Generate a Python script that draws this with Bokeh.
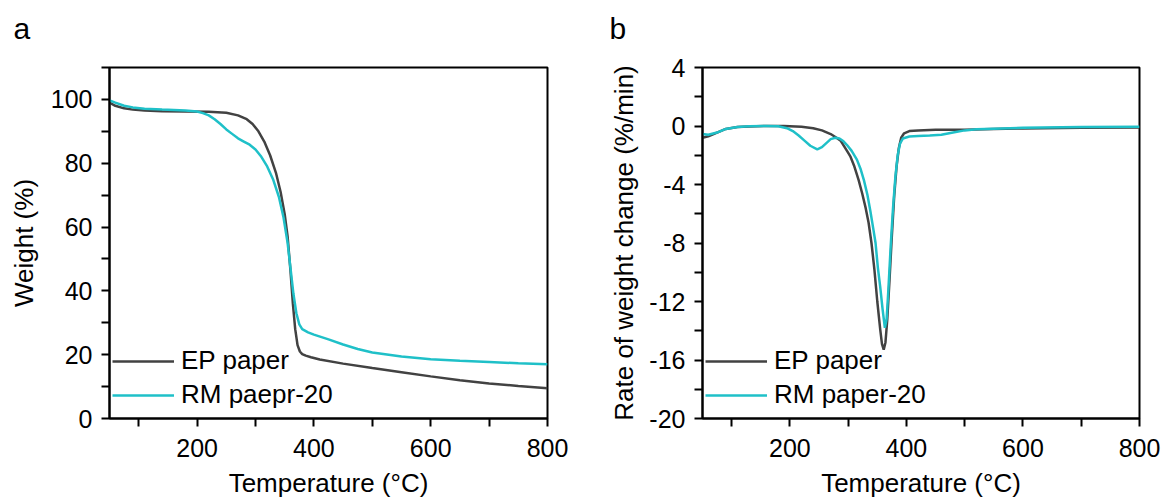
from bokeh.plotting import figure
from bokeh.layouts import row, column
from bokeh.models import FixedTicker, Legend, LegendItem, Label, Range1d
from bokeh.embed import file_html
from bokeh.resources import INLINE

# ---------------- data ----------------
ep_tg_t = [50, 60, 75, 90, 110, 140, 180, 220, 250, 270, 285, 295, 305, 315, 325, 335, 343,
           350, 355, 360, 364, 368, 372, 376, 380, 386, 395, 410, 450, 500, 550, 600, 650,
           700, 750, 800]
ep_tg_w = [99.0, 98.0, 97.2, 96.8, 96.5, 96.3, 96.2, 96.1, 95.8, 95.0, 93.8, 92.3, 90.0, 86.8,
           82.5, 77.0, 71.0, 64.0, 57.0, 46.0, 36.0, 28.0, 23.0, 21.0, 20.2, 19.7, 19.2, 18.5,
           17.2, 15.8, 14.5, 13.2, 12.0, 11.0, 10.2, 9.5]

rm_tg_t = [50, 60, 75, 90, 110, 140, 180, 200, 210, 220, 230, 240, 250, 260, 270, 280, 290,
           300, 310, 320, 330, 340, 348, 355, 360, 365, 370, 375, 380, 390, 400, 425, 450,
           475, 500, 550, 600, 650, 700, 750, 800]
rm_tg_w = [99.7, 99.0, 98.0, 97.5, 97.1, 96.8, 96.5, 96.2, 95.7, 95.0, 93.8, 92.3, 90.6, 89.2,
           87.8, 86.8, 85.8, 84.3, 82.0, 79.0, 75.0, 69.5, 63.0, 55.0, 47.0, 39.0, 33.0, 29.5,
           28.0, 27.0, 26.3, 24.8, 23.2, 21.8, 20.7, 19.4, 18.6, 18.1, 17.7, 17.3, 17.0]

ep_dtg_t = [50, 60, 75, 90, 110, 130, 160, 190, 220, 240, 255, 270, 280, 287, 298, 304, 310,
            318, 324, 330, 335, 340, 345, 350, 355, 358, 361, 364, 367, 371, 375, 379, 383,
            387, 391, 396, 405, 420, 450, 500, 550, 600, 700, 800]
ep_dtg_r = [-0.8, -0.7, -0.45, -0.2, -0.07, -0.03, 0.0, 0.0, -0.05, -0.15, -0.3, -0.55, -0.8,
            -1.0, -1.7, -2.1, -2.7, -3.7, -4.6, -5.6, -6.6, -8.0, -9.8, -12.0, -13.9, -14.9,
            -15.3, -14.8, -13.3, -10.5, -7.5, -4.8, -2.8, -1.5, -0.8, -0.5, -0.35, -0.3,
            -0.25, -0.25, -0.2, -0.17, -0.12, -0.1]

rm_dtg_t = [50, 60, 75, 90, 110, 130, 160, 180, 195, 205, 215, 225, 235, 247, 255, 263, 270,
            278, 285, 292, 298, 306, 315, 321, 327, 333, 338, 343, 347, 351, 355, 359, 363,
            366, 369, 373, 377, 381, 385, 389, 394, 405, 420, 440, 460, 480, 500, 520, 550,
            600, 700, 800]
rm_dtg_r = [-0.55, -0.6, -0.45, -0.2, -0.07, -0.02, 0.0, -0.02, -0.15, -0.35, -0.65, -1.0,
            -1.35, -1.6, -1.45, -1.15, -0.9, -0.8, -0.85, -1.05, -1.3, -1.7, -2.3, -2.9, -3.7,
            -4.7, -5.8, -7.0, -8.0, -9.7, -11.0, -12.5, -13.8, -13.2, -11.2, -8.2, -5.6, -3.5,
            -2.0, -1.2, -0.85, -0.72, -0.68, -0.65, -0.6, -0.45, -0.3, -0.22, -0.18, -0.12,
            -0.07, -0.05]

x_major = [200, 400, 600, 800]
x_minor = [100, 300, 500, 700]
ya_major = [0, 20, 40, 60, 80, 100]
ya_minor = [10, 30, 50, 70, 90, 110]
yb_major = [-20, -16, -12, -8, -4, 0, 4]
yb_minor = [-18, -14, -10, -6, -2, 2]

labels_a = ["EP paper", "RM paepr-20"]
labels_b = ["EP paper", "RM paper-20"]
xlabel = "Temperature (°C)"
ylabel_a = "Weight (%)"
ylabel_b = "Rate of weight change (%/min)"

C_EP = "#424242"
C_RM = "#1fc0c8"
FONT = "Liberation Sans"

HEAD_H = 52   # strip holding the panel letters
MAIN_H = 448  # plots


def style(p, y_major, y_minor, ystand):
    p.outline_line_color = "black"
    p.outline_line_width = 2
    p.xgrid.visible = False
    p.ygrid.visible = False
    p.background_fill_color = "white"
    p.border_fill_color = "white"
    p.xaxis.ticker = FixedTicker(ticks=x_major, minor_ticks=x_minor)
    p.yaxis.ticker = FixedTicker(ticks=y_major, minor_ticks=y_minor)
    p.yaxis.major_label_overrides = {v: str(v) for v in y_major}
    for ax in (p.xaxis[0], p.yaxis[0]):
        ax.axis_line_width = 2
        ax.axis_line_color = "black"
        ax.major_tick_line_width = 2
        ax.minor_tick_line_width = 2
        ax.major_tick_line_color = "black"
        ax.minor_tick_line_color = "black"
        ax.major_tick_out = 8
        ax.minor_tick_out = 8
        ax.major_tick_in = 0
        ax.minor_tick_in = 0
        ax.major_label_text_font = FONT
        ax.major_label_text_font_size = "25px"
        ax.major_label_text_color = "black"
        ax.axis_label_text_font = FONT
        ax.axis_label_text_font_size = "26px"
        ax.axis_label_text_font_style = "normal"
        ax.axis_label_text_color = "black"
    p.xaxis.major_label_standoff = 12
    p.xaxis.axis_label_standoff = 8
    p.yaxis.major_label_standoff = 9
    p.yaxis.axis_label_standoff = ystand


def head(width, letter, lx):
    h = figure(width=width, height=HEAD_H, x_range=Range1d(0, 1), y_range=Range1d(0, 1),
               output_backend="svg", toolbar_location=None, min_border=0)
    h.title.visible = False
    h.axis.visible = False
    h.grid.visible = False
    h.outline_line_color = None
    h.add_layout(Label(x=lx, y=HEAD_H - 27.5, x_units="screen", y_units="screen",
                       text=letter, text_font=FONT, text_font_size="30px",
                       text_color="black", text_baseline="middle"))
    return h


def panel(width, bl, br, yr, y_major, y_minor, ylabel, tg_list, labels, ystand):
    p = figure(width=width, height=MAIN_H, x_range=Range1d(50, 800), y_range=yr,
               output_backend="svg", toolbar_location=None,
               min_border_left=bl, min_border_right=br, min_border_top=67 - HEAD_H,
               min_border_bottom=0, x_axis_label=xlabel, y_axis_label=ylabel)
    style(p, y_major, y_minor, ystand)
    r1 = p.line(tg_list[0], tg_list[1], line_color=C_EP, line_width=2.5)
    r2 = p.line(tg_list[2], tg_list[3], line_color=C_RM, line_width=2.5)
    leg = Legend(items=[LegendItem(label=labels[0], renderers=[r1]),
                        LegendItem(label=labels[1], renderers=[r2])],
                 location=(3, 8), padding=0, margin=0, spacing=3,
                 glyph_width=62, glyph_height=30, label_height=30, label_standoff=7,
                 label_text_font=FONT, label_text_font_size="26px",
                 label_text_color="black", background_fill_alpha=0,
                 border_line_alpha=0)
    p.add_layout(leg, "center")
    return p


pa = panel(580, 109, 33, Range1d(0, 110), ya_major, ya_minor, ylabel_a,
           [ep_tg_t, ep_tg_w, rm_tg_t, rm_tg_w], labels_a, 9)
pb = panel(585, 122, 26, Range1d(-20, 4), yb_major, yb_minor, ylabel_b,
           [ep_dtg_t, ep_dtg_r, rm_dtg_t, rm_dtg_r], labels_b, 7)
ha = head(580, "a", 13)
hb = head(585, "b", 29)

layout = column(row(ha, hb), row(pa, pb))
open("out.html", "w").write(file_html(layout, INLINE))
